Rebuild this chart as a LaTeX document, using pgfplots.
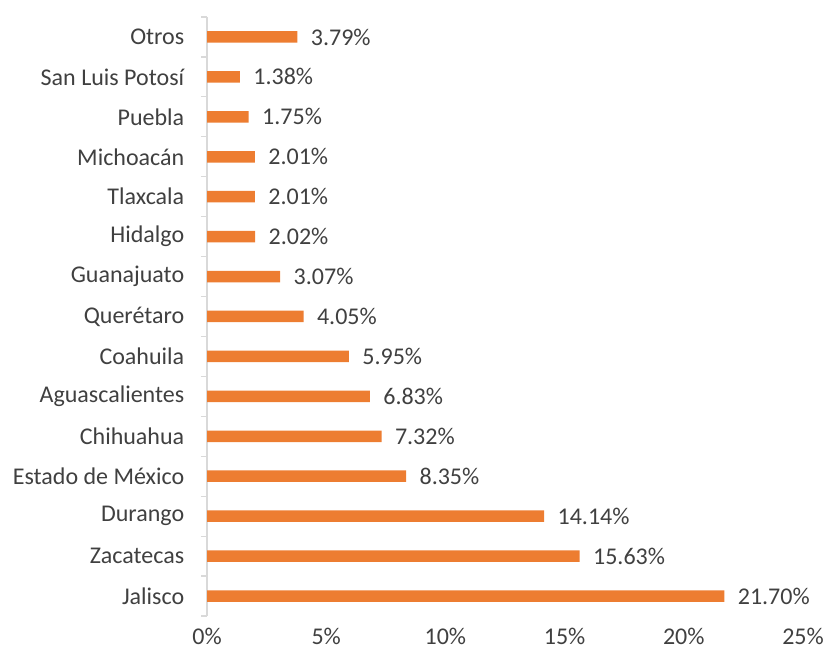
\documentclass[border=0pt]{standalone}
\usepackage{fontspec}
\setmainfont{Carlito}
\usepackage{pgfplots}
\pgfplotsset{compat=1.18}
\definecolor{barorange}{HTML}{ED7D31}
\definecolor{txtgray}{HTML}{404040}
\definecolor{axgray}{HTML}{D9D9D9}
\begin{document}
\begin{tikzpicture}
\path[use as bounding box] (0,0) rectangle (825bp,656bp);
\begin{axis}[
  at={(207bp,40bp)}, anchor=south west,
  scale only axis, width=596bp, height=599bp,
  xmin=0, xmax=25, ymin=-0.5, ymax=14.5,
  xbar, bar width=11.5bp,
  axis y line*=left, axis x line*=bottom,
  x axis line style={draw=none},
  y axis line style={draw=axgray, line width=1.2bp},
  xtick={0,5,10,15,20,25},
  xticklabels={0\%,5\%,10\%,15\%,20\%,25\%},
  major x tick style={draw=none},
  ytick={0,...,14},
  yticklabels={Jalisco,Zacatecas,Durango,Estado de México,Chihuahua,Aguascalientes,Coahuila,Querétaro,Guanajuato,Hidalgo,Tlaxcala,Michoacán,Puebla,San Luis Potosí,Otros},
  major y tick style={draw=none},
  minor ytick={-0.5,0.5,...,14.5},
  minor y tick style={draw=axgray, line width=1.2bp},
  minor tick length=6bp, tick align=outside,
  tick label style={font=\fontsize{24bp}{28bp}\selectfont, text=txtgray},
  yticklabel style={xshift=-15bp},
  xticklabel style={yshift=-4bp},
  /pgf/number format/assume math mode=true,
  nodes near coords={\pgfmathprintnumber[fixed,fixed zerofill,precision=2]{\pgfplotspointmeta}\%},
  nodes near coords style={font=\fontsize{24bp}{28bp}\selectfont, text=txtgray, anchor=west, xshift=10bp},
  point meta=x,
  clip=false,
]
\addplot[fill=barorange, draw=none] coordinates {
(21.70,0) (15.63,1) (14.14,2) (8.35,3) (7.32,4) (6.83,5) (5.95,6) (4.05,7) (3.07,8) (2.02,9) (2.01,10) (2.01,11) (1.75,12) (1.38,13) (3.79,14)
};
\end{axis}
\end{tikzpicture}
\end{document}
